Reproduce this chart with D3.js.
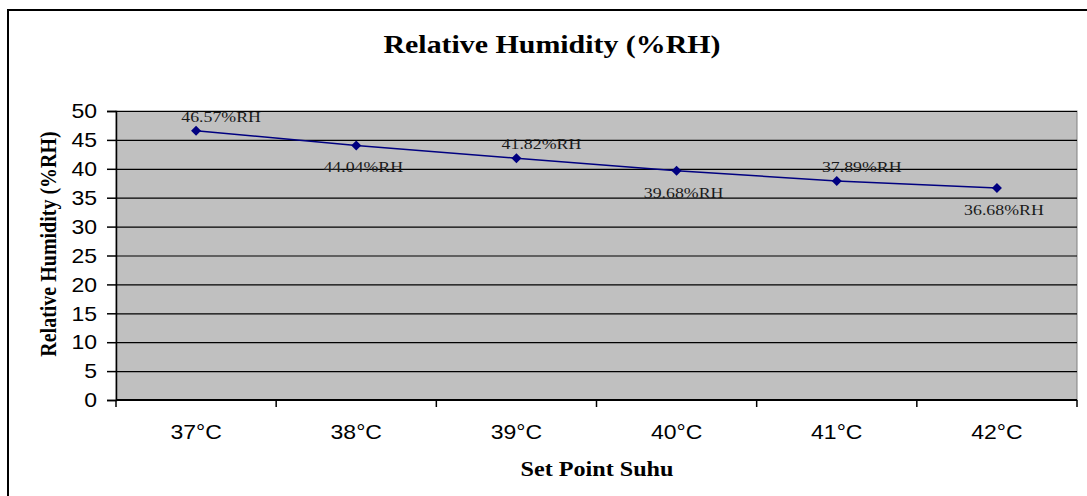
<!DOCTYPE html>
<html>
<head>
<meta charset="utf-8">
<script src="https://cdn.jsdelivr.net/npm/d3@7"></script>
<style>
  html, body { margin: 0; padding: 0; background: #fff; }
  svg { display: block; }
</style>
</head>
<body>
<svg id="chart"></svg>
<script>
const categories = ['37°C', '38°C', '39°C', '40°C', '41°C', '42°C'];
const humidity = [46.57, 44.04, 41.82, 39.68, 37.89, 36.68];
const yTicks = [0, 5, 10, 15, 20, 25, 30, 35, 40, 45, 50];

const width = 1087;
const height = 496;
const plot = { left: 116, right: 1077, top: 111, bottom: 400 };
// text in the source picture is a bit wider than tall
const sx = 1.15;

const svg = d3.select('#chart')
  .attr('width', width)
  .attr('height', height);

// outer frame (cut off on the right and bottom)
svg.append('rect')
  .attr('x', 8)
  .attr('y', 10)
  .attr('width', width + 20)
  .attr('height', height + 20)
  .attr('fill', '#fff')
  .attr('stroke', '#000')
  .attr('stroke-width', 2);

const xScale = d3.scaleBand()
  .domain(categories)
  .range([plot.left, plot.right]);

const yScale = d3.scaleLinear()
  .domain([0, 50])
  .range([plot.bottom, plot.top]);

const text = (sel, x, y, extra = '') =>
  sel.append('text').attr('transform', `translate(${x},${y}) scale(${sx},1)${extra}`);

// plot background
svg.append('rect')
  .attr('x', plot.left)
  .attr('y', plot.top)
  .attr('width', plot.right - plot.left)
  .attr('height', plot.bottom - plot.top)
  .attr('fill', '#c0c0c0')
  .attr('stroke', '#808080')
  .attr('stroke-width', 1);

// gridlines
svg.append('g')
  .attr('transform', `translate(${plot.left},0)`)
  .call(d3.axisLeft(yScale).tickValues(yTicks.filter(d => d > 0)).tickSize(-(plot.right - plot.left)).tickFormat(''))
  .call(g => g.select('.domain').remove())
  .call(g => g.selectAll('line').attr('stroke', '#000').attr('stroke-width', 1.2));

// y axis
const yAxis = svg.append('g')
  .attr('transform', `translate(${plot.left},0)`)
  .call(d3.axisLeft(yScale).tickValues(yTicks).tickSize(9).tickFormat(''));
yAxis.selectAll('path, line').attr('stroke', '#000').attr('stroke-width', 1.5);

yTicks.forEach(t => {
  text(svg, 97, yScale(t))
    .attr('text-anchor', 'end')
    .attr('dy', '0.36em')
    .attr('font-family', 'Liberation Sans, Arial, sans-serif')
    .attr('font-size', 20)
    .attr('fill', '#000')
    .text(t);
});

// x axis with ticks on category boundaries
const boundaries = categories.map(c => xScale(c)).concat([plot.right]);
svg.append('line')
  .attr('x1', plot.left).attr('x2', plot.right)
  .attr('y1', plot.bottom).attr('y2', plot.bottom)
  .attr('stroke', '#000').attr('stroke-width', 2);
svg.append('g').selectAll('line')
  .data(boundaries)
  .join('line')
  .attr('x1', d => d).attr('x2', d => d)
  .attr('y1', plot.bottom).attr('y2', plot.bottom + 7)
  .attr('stroke', '#000').attr('stroke-width', 1.5);

categories.forEach(c => {
  text(svg, xScale(c) + xScale.bandwidth() / 2, 439)
    .attr('text-anchor', 'middle')
    .attr('font-family', 'Liberation Sans, Arial, sans-serif')
    .attr('font-size', 20)
    .attr('fill', '#000')
    .text(c);
});

// series line
const cx = (d, i) => xScale(categories[i]) + xScale.bandwidth() / 2;
const line = d3.line()
  .x(cx)
  .y(d => yScale(d));

svg.append('path')
  .datum(humidity)
  .attr('d', line)
  .attr('fill', 'none')
  .attr('stroke', '#000080')
  .attr('stroke-width', 1.5);

svg.append('g').selectAll('path')
  .data(humidity)
  .join('path')
  .attr('d', d3.symbol(d3.symbolSquare, 50))
  .attr('transform', (d, i) => `translate(${cx(d, i)},${yScale(d)}) rotate(45)`)
  .attr('fill', '#000080');

// data labels, alternating above / below
humidity.forEach((d, i) => {
  const above = i % 2 === 0;
  text(svg, cx(d, i) + (above ? 25 : 7), yScale(d) + (above ? -9 : 27))
    .attr('text-anchor', 'middle')
    .attr('font-family', 'Liberation Serif, Times New Roman, serif')
    .attr('font-size', 15.5)
    .attr('fill', '#1a1a1a')
    .text(`${d.toFixed(2)}%RH`);
});

// titles
text(svg, 552, 53)
  .attr('text-anchor', 'middle')
  .attr('font-family', 'Liberation Serif, Times New Roman, serif')
  .attr('font-weight', 'bold')
  .attr('font-size', 26)
  .text('Relative Humidity (%RH)');

text(svg, 597, 476)
  .attr('text-anchor', 'middle')
  .attr('font-family', 'Liberation Serif, Times New Roman, serif')
  .attr('font-weight', 'bold')
  .attr('font-size', 21)
  .text('Set Point Suhu');

text(svg, 56, 244, ' rotate(-90)')
  .attr('text-anchor', 'middle')
  .attr('font-family', 'Liberation Serif, Times New Roman, serif')
  .attr('font-weight', 'bold')
  .attr('font-size', 20)
  .text('Relative Humidity (%RH)');
</script>
</body>
</html>
